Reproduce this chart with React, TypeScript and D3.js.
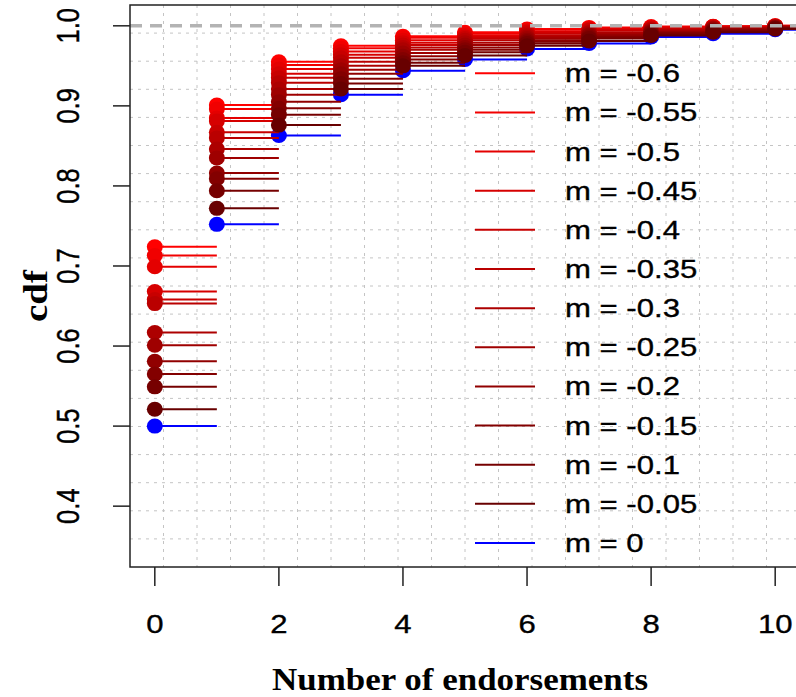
import * as d3 from 'd3';

// m values shown in the legend (top to bottom)
const mLabels = ['-0.6', '-0.55', '-0.5', '-0.45', '-0.4', '-0.35', '-0.3', '-0.25', '-0.2', '-0.15', '-0.1', '-0.05', '0'];

// number of endorsements (step knots)
const knots = [0, 1, 2, 3, 4, 5, 6, 7, 8, 9, 10];

// cdf value at each knot, one row per m
const cdfValues = [
  [0.724, 0.901, 0.955, 0.975, 0.987, 0.992, 0.996, 0.998, 0.999, 0.9995, 1.0],   // m = -0.6
  [0.713, 0.896, 0.951, 0.972, 0.985, 0.990, 0.995, 0.997, 0.998, 0.999, 1.0],    // m = -0.55
  [0.699, 0.885, 0.946, 0.968, 0.982, 0.988, 0.993, 0.996, 0.998, 0.999, 0.9995], // m = -0.5
  [0.668, 0.881, 0.940, 0.964, 0.979, 0.986, 0.992, 0.995, 0.997, 0.998, 0.9995], // m = -0.45
  [0.658, 0.867, 0.935, 0.960, 0.976, 0.984, 0.990, 0.994, 0.996, 0.998, 0.999],  // m = -0.4
  [0.653, 0.860, 0.929, 0.955, 0.973, 0.982, 0.988, 0.992, 0.995, 0.997, 0.999],  // m = -0.35
  [0.617, 0.846, 0.921, 0.950, 0.970, 0.979, 0.986, 0.991, 0.994, 0.997, 0.9985], // m = -0.3
  [0.601, 0.835, 0.914, 0.945, 0.966, 0.976, 0.984, 0.989, 0.993, 0.996, 0.998],  // m = -0.25
  [0.581, 0.816, 0.905, 0.940, 0.962, 0.973, 0.982, 0.988, 0.992, 0.995, 0.998],  // m = -0.2
  [0.565, 0.809, 0.897, 0.934, 0.958, 0.970, 0.980, 0.986, 0.991, 0.994, 0.997],  // m = -0.15
  [0.549, 0.794, 0.889, 0.928, 0.954, 0.967, 0.978, 0.984, 0.989, 0.993, 0.997],  // m = -0.1
  [0.521, 0.772, 0.876, 0.921, 0.950, 0.963, 0.975, 0.981, 0.988, 0.992, 0.996],  // m = -0.05
  [0.500, 0.752, 0.863, 0.914, 0.944, 0.958, 0.971, 0.978, 0.986, 0.990, 0.995],  // m = 0
];

const xTicks = [0, 2, 4, 6, 8, 10];
const yTicks = [0.4, 0.5, 0.6, 0.7, 0.8, 0.9, 1.0];

const W = 796, H = 697;
const left = 130, right = 800, top = 5, bottom = 567;
const SX = 1.22; // text in the picture is stretched horizontally

export default function App() {
  const x = d3.scaleLinear().domain([-0.4, 10.4]).range([left, right]);
  const y = d3.scaleLinear().domain([0.324, 1.026]).range([bottom, top]);

  const redRamp = d3.interpolateRgb('#ff0000', '#680000');
  const color = (i: number) => (i === mLabels.length - 1 ? '#0000ff' : redRamp(i / (mLabels.length - 2)));

  const gridX = d3.range(1, 20).map(k => left + (k * (right - left)) / 20);
  const gridY = d3.range(1, 20).map(k => top + (k * (bottom - top)) / 20);

  // blue (m = 0) drawn first, then reds from light to dark
  const order = [mLabels.length - 1, ...d3.range(mLabels.length - 1)];

  const legX1 = 475, legX2 = 535, legText = 565;
  const legY = d3.scaleLinear().domain([0, mLabels.length - 1]).range([73.3, 543]);

  const sans = "'Liberation Sans', Arial, Helvetica, sans-serif";
  const serif = "'Liberation Serif', 'Times New Roman', serif";

  return (
    <svg width={W} height={H} style={{ position: 'absolute', left: 0, top: 0, background: '#fff' }}>
      <defs>
        <clipPath id="plot">
          <rect x={left} y={top} width={right - left} height={bottom - top} />
        </clipPath>
      </defs>

      <g stroke="#c4c4c4" strokeWidth={1} strokeDasharray="3,5">
        {gridX.map((gx, i) => <line key={'gx' + i} x1={gx} x2={gx} y1={top} y2={bottom} />)}
        {gridY.map((gy, i) => <line key={'gy' + i} x1={left} x2={right} y1={gy} y2={gy} />)}
      </g>

      <g clipPath="url(#plot)">
        {order.map(i => (
          <g key={'s' + i} fill={color(i)} stroke={color(i)}>
            {knots.map((k, j) => (
              <line key={'l' + j} x1={x(k)} x2={x(k + 1)} y1={y(cdfValues[i][j])} y2={y(cdfValues[i][j])} strokeWidth={2} />
            ))}
            {knots.map((k, j) => (
              <ellipse key={'c' + j} cx={x(k)} cy={y(cdfValues[i][j])} rx={8} ry={7.5} stroke="none" />
            ))}
          </g>
        ))}
        <line x1={left} x2={right} y1={y(1)} y2={y(1)} stroke="#b3b3b3" strokeWidth={3.5} strokeDasharray="12,8" />
      </g>

      <rect x={left} y={top} width={right - left} height={bottom - top} fill="none" stroke="#222" strokeWidth={1.5} />

      {/* x axis */}
      <g fill="#000" stroke="#000" strokeWidth={0.35}>
        {xTicks.map(t => (
          <g key={'xt' + t}>
            <line x1={x(t)} x2={x(t)} y1={bottom} y2={586} stroke="#222" strokeWidth={1.5} />
            <text transform={`translate(${x(t)},633) scale(${SX},1)`} textAnchor="middle" fontFamily={sans} fontSize={25.5}>{t}</text>
          </g>
        ))}
        <text x={460} y={690} textAnchor="middle" fontFamily={serif} fontWeight="bold" fontSize={31} textLength={376} lengthAdjust="spacingAndGlyphs" strokeWidth={0}>Number of endorsements</text>
      </g>

      {/* y axis */}
      <g fill="#000" stroke="#000" strokeWidth={0.35}>
        {yTicks.map(t => (
          <g key={'yt' + t}>
            <line x1={113} x2={left} y1={y(t)} y2={y(t)} stroke="#222" strokeWidth={1.5} />
            <text transform={`translate(79,${y(t)}) scale(${SX},1) rotate(-90)`} textAnchor="middle" fontFamily={sans} fontSize={25.5}>{t.toFixed(1)}</text>
          </g>
        ))}
        <text transform={`translate(47,296) scale(1.1,1) rotate(-90)`} textAnchor="middle" fontFamily={serif} fontWeight="bold" fontSize={31} textLength={52} lengthAdjust="spacingAndGlyphs" strokeWidth={0}>cdf</text>
      </g>

      {/* legend */}
      <g>
        {mLabels.map((m, i) => (
          <g key={'lg' + i}>
            <line x1={legX1} x2={legX2} y1={legY(i)} y2={legY(i)} stroke={color(i)} strokeWidth={2} />
            <text transform={`translate(${legText},${legY(i) + 9}) scale(${SX},1)`} fontFamily={sans} fontSize={25.5} fill="#000" stroke="#000" strokeWidth={0.35}>{`m = ${m}`}</text>
          </g>
        ))}
      </g>
    </svg>
  );
}
